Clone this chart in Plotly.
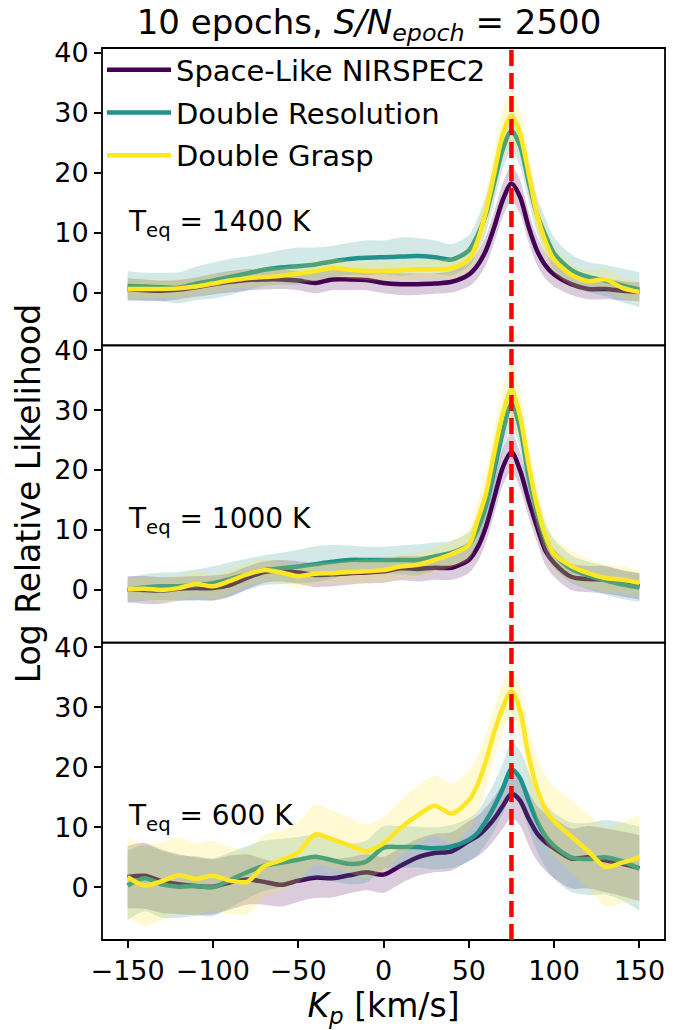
import plotly.graph_objects as go
from plotly.subplots import make_subplots

# ---------------- data ----------------
kp = [-150, -140, -130, -120, -110, -100, -90, -80, -70, -60, -50, -40, -30, -20, -10,
      0, 10, 20, 30, 40, 50, 55, 60, 65, 70, 75, 80, 85, 90, 95, 100,
      110, 120, 130, 140, 150]
kp_true = 75

series_names = ["Space-Like NIRSPEC2", "Double Resolution", "Double Grasp"]
panel_labels = ["T<sub>eq</sub> = 1400 K", "T<sub>eq</sub> = 1000 K", "T<sub>eq</sub> = 600 K"]
y_ticks = [0, 10, 20, 30, 40]
x_ticks = [-150, -100, -50, 0, 50, 100, 150]

# Teq = 1400 K
t1400_space = [0.6, 0.4, 0.3, 0.5, 0.9, 1.4, 1.8, 2.1, 2.2, 2.2, 2.0, 1.6, 2.2, 2.2, 2.1,
               1.6, 1.4, 1.4, 1.5, 1.8, 3.0, 4.5, 7.0, 11.0, 15.5, 18.2, 16.0, 11.0, 7.0, 4.5, 3.0,
               1.4, 0.6, 0.6, 0.3, 0.1]
t1400_res = [1.1, 1.0, 0.9, 0.8, 1.5, 2.0, 2.6, 3.2, 3.8, 4.2, 4.4, 4.7, 5.2, 5.6, 5.8,
             5.9, 6.0, 6.1, 5.9, 5.5, 7.0, 9.5, 13.0, 18.5, 24.0, 27.0, 24.5, 18.5, 13.0, 9.5, 6.5,
             3.8, 2.6, 2.0, 1.2, 0.5]
t1400_grasp = [0.6, 0.6, 0.6, 0.7, 1.0, 1.5, 2.0, 2.4, 2.6, 2.8, 3.2, 3.6, 4.1, 3.8, 3.6,
               3.6, 3.7, 3.9, 3.9, 4.1, 5.5, 8.5, 13.5, 20.0, 26.5, 29.5, 26.5, 20.0, 13.0, 8.5, 5.5,
               3.0, 1.9, 2.2, 0.8, 0.1]
t1400_space_err = [1.8, 1.8, 1.7, 1.6, 1.6, 1.7, 1.8, 1.8, 1.7, 1.6, 1.6, 1.7, 1.8, 1.8, 1.7,
                   1.7, 1.8, 1.8, 1.7, 1.8, 2.0, 2.2, 2.4, 2.6, 2.8, 3.0, 2.8, 2.6, 2.4, 2.2, 2.0,
                   1.8, 1.7, 1.7, 1.6, 1.6]
t1400_res_err = [2.5, 2.3, 2.4, 2.6, 2.8, 3.0, 3.0, 2.8, 2.7, 2.9, 3.1, 2.8, 2.6, 2.7, 2.9,
                 2.8, 3.2, 3.0, 2.8, 2.6, 2.6, 2.8, 3.0, 3.2, 3.3, 3.4, 3.3, 3.2, 3.0, 2.8, 2.7,
                 2.6, 2.5, 2.6, 2.8, 2.9]
t1400_grasp_err = [1.6, 1.5, 1.5, 1.6, 1.6, 1.5, 1.4, 1.5, 1.6, 1.5, 1.5, 1.6, 1.6, 1.5, 1.5,
                   1.6, 1.5, 1.5, 1.6, 1.7, 2.0, 2.5, 3.0, 3.5, 4.0, 4.3, 4.0, 3.5, 3.0, 2.5, 2.2,
                   1.9, 1.8, 1.8, 1.7, 1.7]

# Teq = 1000 K
t1000_space = [0.1, 0.0, -0.1, 0.2, 0.3, 0.3, 0.8, 2.0, 3.0, 3.2, 2.9, 2.5, 2.6, 2.8, 2.9,
               3.1, 3.6, 3.5, 3.7, 3.7, 5.0, 7.0, 10.5, 15.5, 20.5, 23.0, 20.0, 15.0, 10.5, 6.5, 4.5,
               2.2, 1.8, 1.7, 1.1, 0.6]
t1000_res = [0.0, 0.4, 0.6, 0.6, 0.8, 1.1, 1.8, 2.6, 3.3, 3.6, 3.9, 4.3, 4.7, 5.0, 5.0,
             5.0, 5.0, 5.0, 5.6, 6.2, 7.5, 10.0, 14.0, 20.0, 26.5, 31.0, 27.0, 19.0, 13.0, 8.5, 6.0,
             3.5, 2.4, 1.6, 0.9, 0.4]
t1000_grasp = [0.1, 0.2, 0.0, 0.3, 1.0, 0.6, 1.5, 2.6, 3.3, 2.9, 2.3, 2.7, 2.8, 3.0, 3.1,
               3.3, 3.9, 4.2, 5.0, 6.0, 7.5, 11.5, 16.0, 23.0, 29.5, 33.3, 29.0, 21.0, 14.0, 9.0, 6.0,
               4.0, 2.8, 2.0, 1.7, 1.2]
t1000_space_err = [2.2, 2.3, 2.2, 2.0, 2.0, 2.1, 2.0, 1.9, 1.8, 1.8, 1.9, 2.0, 2.0, 1.9, 1.8,
                   1.9, 2.0, 2.1, 2.0, 2.0, 2.2, 2.4, 2.6, 2.8, 3.0, 3.2, 3.0, 2.8, 2.6, 2.4, 2.3,
                   2.2, 2.2, 2.3, 2.2, 2.2]
t1000_res_err = [2.0, 2.2, 2.3, 2.4, 2.6, 2.8, 2.8, 2.6, 2.5, 2.6, 2.8, 3.0, 2.8, 2.4, 2.2,
                 2.2, 2.4, 2.6, 2.3, 2.0, 2.1, 2.4, 2.8, 3.2, 3.5, 3.8, 3.5, 3.2, 2.8, 2.5, 2.4,
                 2.3, 2.3, 2.4, 2.4, 2.4]
t1000_grasp_err = [1.8, 1.9, 2.0, 2.0, 2.1, 2.0, 2.0, 1.9, 1.8, 1.8, 1.9, 1.8, 1.8, 1.9, 2.0,
                   2.0, 2.0, 2.0, 2.1, 2.2, 2.5, 3.0, 3.5, 4.0, 4.3, 4.5, 4.3, 4.0, 3.5, 3.0, 2.8,
                   2.6, 2.4, 2.3, 2.2, 2.2]

# Teq = 600 K
t600_space = [1.7, 1.9, 1.0, 0.5, 0.2, 0.1, 0.8, 1.3, 0.9, 0.4, 1.1, 1.6, 1.5, 2.0, 2.5,
              2.1, 3.6, 5.0, 5.7, 6.0, 7.7, 8.5, 9.8, 11.5, 13.6, 15.6, 14.5, 11.5, 9.0, 7.5, 6.5,
              4.8, 5.0, 4.5, 3.9, 3.2]
t600_res = [0.3, 1.5, 0.5, 0.1, 0.2, 0.0, 1.2, 2.5, 3.6, 4.1, 4.6, 5.1, 4.5, 3.9, 4.3,
            6.6, 6.7, 6.7, 6.5, 6.8, 7.9, 9.0, 11.0, 13.5, 16.5, 19.7, 18.2, 14.5, 11.0, 8.5, 6.9,
            5.0, 4.7, 5.0, 4.3, 3.1]
t600_grasp = [1.7, 0.3, 1.0, 2.0, 1.4, 1.9, 1.1, 0.9, 3.5, 4.5, 5.8, 8.8, 8.0, 7.0, 6.0,
              7.3, 9.9, 12.0, 13.6, 12.3, 14.5, 17.0, 21.0, 26.0, 30.0, 32.8, 29.5, 22.0, 16.5, 13.0, 11.0,
              8.5, 6.0, 3.4, 4.1, 5.0]
t600_space_err = [5.2, 5.5, 5.3, 5.0, 4.8, 4.6, 4.5, 4.2, 3.8, 3.6, 3.5, 3.4, 3.2, 3.0, 3.0,
                  3.0, 3.0, 3.1, 3.2, 3.2, 3.3, 3.4, 3.5, 3.6, 3.8, 4.0, 4.2, 4.4, 4.6, 4.8, 5.0,
                  5.0, 5.2, 5.3, 5.4, 5.5]
t600_res_err = [5.8, 5.5, 5.6, 5.2, 5.0, 4.8, 4.6, 4.4, 4.2, 4.0, 3.8, 3.6, 3.5, 3.4, 3.5,
                3.6, 3.5, 3.4, 3.5, 3.6, 3.6, 3.6, 3.8, 4.0, 4.2, 4.4, 4.6, 4.8, 5.0, 5.2, 5.5,
                5.8, 6.0, 6.2, 6.5, 7.0]
t600_grasp_err = [6.5, 6.8, 6.5, 6.3, 6.0, 5.8, 5.6, 5.4, 5.2, 5.0, 5.0, 5.0, 4.8, 4.6, 4.5,
                  4.5, 4.6, 4.8, 5.0, 5.0, 5.0, 4.8, 4.5, 4.2, 4.0, 3.8, 4.2, 4.8, 5.2, 5.5, 5.8,
                  6.0, 6.2, 6.5, 6.8, 7.0]

panels = [
    ([t1400_space, t1400_res, t1400_grasp], [t1400_space_err, t1400_res_err, t1400_grasp_err]),
    ([t1000_space, t1000_res, t1000_grasp], [t1000_space_err, t1000_res_err, t1000_grasp_err]),
    ([t600_space, t600_res, t600_grasp], [t600_space_err, t600_res_err, t600_grasp_err]),
]

# ---------------- style ----------------
FONT = "DejaVu Sans"
line_colors = ["#440154", "#21918c", "#fde725"]
fill_colors = ["rgba(68,1,84,0.2)", "rgba(33,145,140,0.2)", "rgba(253,231,37,0.2)"]
Y_RANGE = [-8.8, 40.8]
X_RANGE = [-165, 165]
TICK_SIZE = 27

fig = make_subplots(rows=3, cols=1, shared_xaxes=True, vertical_spacing=0)

for r, (vals, errs) in enumerate(panels):
    xr = "x" if r == 0 else f"x{r+1}"
    yr = "y" if r == 0 else f"y{r+1}"
    for s in range(3):
        y = vals[s]
        e = errs[s]
        upper = [a + b for a, b in zip(y, e)]
        lower = [a - b for a, b in zip(y, e)]
        fig.add_trace(go.Scatter(x=kp, y=upper, mode="lines",
                                 line=dict(width=0, shape="spline", smoothing=0.8),
                                 showlegend=False, hoverinfo="skip"), row=r + 1, col=1)
        fig.add_trace(go.Scatter(x=kp, y=lower, mode="lines",
                                 line=dict(width=0, shape="spline", smoothing=0.8),
                                 fill="tonexty", fillcolor=fill_colors[s],
                                 showlegend=False, hoverinfo="skip"), row=r + 1, col=1)
        fig.add_trace(go.Scatter(x=kp, y=y, mode="lines", name=series_names[s],
                                 line=dict(color=line_colors[s], width=4.5, shape="spline", smoothing=0.8),
                                 legendgroup=series_names[s], showlegend=(r == 0)),
                      row=r + 1, col=1)
    fig.add_annotation(x=-151, y=11.6, xref=xr, yref=yr,
                       text=panel_labels[r], showarrow=False, xanchor="left", yanchor="middle",
                       font=dict(family=FONT, size=28, color="black"))
    # axes frame (spines)
    fig.add_shape(type="rect", xref=f"{xr} domain", yref=f"{yr} domain",
                  x0=0, x1=1, y0=0, y1=1, line=dict(color="black", width=1.8),
                  fillcolor="rgba(0,0,0,0)", layer="above")

# true Kp line
fig.add_shape(type="line", xref="x3", yref="paper", x0=kp_true, x1=kp_true, y0=0, y1=1,
              line=dict(color="#ff0000", width=4.5, dash="16px,7px"), layer="above")

for r in range(1, 4):
    fig.update_yaxes(range=Y_RANGE, tickvals=y_ticks, ticks="outside", ticklen=7,
                     tickwidth=1.8, tickcolor="black", showline=False,
                     showgrid=False, zeroline=False,
                     tickfont=dict(family=FONT, size=TICK_SIZE, color="black"), row=r, col=1)
    fig.update_xaxes(range=X_RANGE, tickvals=x_ticks,
                     ticks="outside" if r == 3 else "", ticklen=7, tickwidth=1.8, tickcolor="black",
                     showticklabels=(r == 3), showline=False,
                     showgrid=False, zeroline=False,
                     tickfont=dict(family=FONT, size=TICK_SIZE, color="black"), row=r, col=1)

fig.update_xaxes(title=dict(text="<i>K<sub>p</sub></i> [km/s]", standoff=0,
                            font=dict(family=FONT, size=33, color="black")),
                 automargin=False, row=3, col=1)

fig.add_annotation(text="Log Relative Likelihood", xref="paper", yref="paper",
                   x=-0.131, y=0.5, textangle=-90, showarrow=False,
                   xanchor="center", yanchor="middle",
                   font=dict(family=FONT, size=33, color="black"))

fig.update_layout(
    width=694, height=1030,
    margin=dict(l=102, r=29, t=48, b=90),
    paper_bgcolor="white", plot_bgcolor="white",
    font=dict(family=FONT, color="black"),
    title=dict(text="10 epochs, <i>S/N<sub>epoch</sub></i> = 2500",
               x=(369 - 102) / 563, xref="paper", y=1 - 22 / 1030, yref="container",
               xanchor="center", yanchor="middle",
               font=dict(family=FONT, size=34, color="black")),
    legend=dict(x=0.0, y=1.004, xanchor="left", yanchor="top",
                bgcolor="rgba(0,0,0,0)", borderwidth=0,
                font=dict(family=FONT, size=29, color="black"),
                traceorder="grouped", tracegroupgap=2, itemwidth=64),
)

fig.write_html("out.html", config={"displayModeBar": False},
               post_script="document.body.style.margin='0px';document.body.style.overflow='hidden';")
